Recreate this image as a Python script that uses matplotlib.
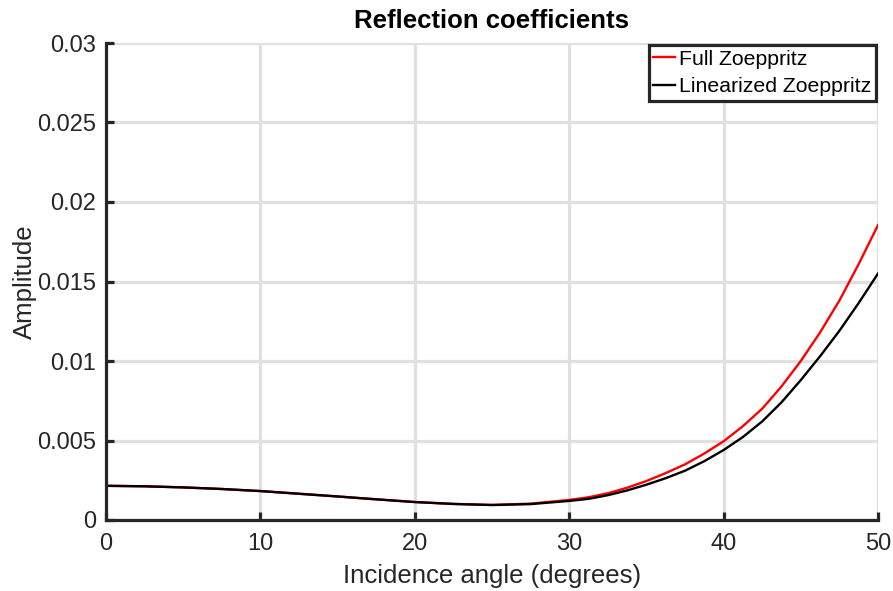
import numpy as np
import matplotlib.pyplot as plt

# incidence angles (degrees) and reflection amplitudes
angles = [0, 2.5, 5, 7.5, 10, 12.5, 15, 17.5, 20, 22.5, 25, 27.5, 30,
          31.25, 32.5, 33.75, 35, 36.25, 37.5, 38.75, 40, 41.25, 42.5,
          43.75, 45, 46.25, 47.5, 48.75, 50]
full_zoeppritz = [0.00215, 0.00212, 0.00205, 0.00195, 0.00182, 0.00165, 0.00148,
                  0.00130, 0.00113, 0.00101, 0.00095, 0.00103, 0.00126,
                  0.00143, 0.00168, 0.00203, 0.00245, 0.00295, 0.00350, 0.00418,
                  0.00495, 0.00590, 0.00700, 0.00840, 0.01000, 0.01180, 0.01380,
                  0.01610, 0.01855]
linear_zoeppritz = [0.00215, 0.00212, 0.00205, 0.00195, 0.00182, 0.00165, 0.00148,
                    0.00130, 0.00113, 0.00101, 0.00094, 0.00100, 0.00120,
                    0.00133, 0.00156, 0.00186, 0.00222, 0.00263, 0.00310, 0.00370,
                    0.00440, 0.00522, 0.00620, 0.00740, 0.00880, 0.01030, 0.01190,
                    0.01365, 0.01550]

x_ticks = [0, 10, 20, 30, 40, 50]
y_ticks = [0, 0.005, 0.01, 0.015, 0.02, 0.025, 0.03]
y_tick_labels = ["0", "0.005", "0.01", "0.015", "0.02", "0.025", "0.03"]

plt.rcParams['font.family'] = ['Liberation Sans', 'DejaVu Sans']
dark = '#262626'

fig = plt.figure(figsize=(8.93, 5.91), dpi=100)
ax = fig.add_axes([106 / 893, 71 / 591, 772 / 893, 477 / 591])

ax.plot(angles, full_zoeppritz, color='red', lw=1.7, label='Full Zoeppritz')
ax.plot(angles, linear_zoeppritz, color='black', lw=1.7, label='Linearized Zoeppritz')

ax.set_xlim(0, 50)
ax.set_ylim(0, 0.03)
ax.set_xticks(x_ticks)
ax.set_yticks(y_ticks)
ax.set_yticklabels(y_tick_labels)

ax.set_axisbelow(True)
ax.grid(True, color='#e0e0e0', lw=2.3)
for side in ['top', 'right']:
    ax.spines[side].set_visible(False)
for side in ['left', 'bottom']:
    ax.spines[side].set_color(dark)
    ax.spines[side].set_linewidth(2.3)
    ax.spines[side].set_zorder(3)

ax.tick_params(direction='in', length=6, width=2.3, color=dark,
               labelcolor=dark, labelsize=17)
ax.tick_params(axis='x', pad=9.5)
ax.tick_params(axis='y', pad=7)

ax.set_xlabel('Incidence angle (degrees)', fontsize=18.5, color=dark, labelpad=6)
ax.set_ylabel('Amplitude', fontsize=18.5, color=dark, labelpad=0)
ax.set_title('Reflection coefficients', fontsize=18.5, fontweight='bold', pad=10.5)

leg = ax.legend(loc='upper right', bbox_to_anchor=(1.0, 1.0), borderaxespad=0.1,
                fancybox=False, framealpha=1, edgecolor=dark, fontsize=15.3,
                handlelength=1.0, handletextpad=0.2, labelspacing=0.4,
                borderpad=0.22)
leg.get_frame().set_linewidth(2.3)

fig.savefig('out.png', dpi=100)
